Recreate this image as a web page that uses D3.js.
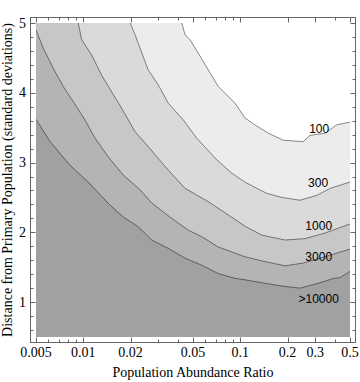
<!DOCTYPE html>
<html>
<head>
<meta charset="utf-8">
<script src="https://cdn.jsdelivr.net/npm/d3@7"></script>
<style>
body { margin: 0; background: #fff; }
</style>
</head>
<body>
<div id="chart"></div>
<script>
// contour lines, [abundance ratio, distance]
var line10000 = [[0.005,3.62],[0.00614,3.30],[0.00824,2.96],[0.01076,2.72],[0.01479,2.39],[0.0180,2.22],[0.0224,2.08],
    [0.0273,1.89],[0.0348,1.77],[0.0445,1.63],[0.0567,1.53],[0.0724,1.41],[0.0927,1.34],[0.107,1.32],[0.144,1.27],
    [0.184,1.23],[0.240,1.20],[0.314,1.27],[0.392,1.34],[0.431,1.35],[0.5,1.44]];
var line3000 = [[0.005,4.90],[0.00556,4.64],[0.00644,4.35],[0.00746,4.09],[0.00865,3.87],[0.01026,3.61],[0.01189,3.35],
    [0.01445,3.08],[0.0180,2.82],[0.0230,2.61],[0.0273,2.42],[0.0366,2.20],[0.0467,2.03],[0.0567,1.94],[0.0724,1.79],
    [0.107,1.65],[0.144,1.58],[0.193,1.52],[0.252,1.56],[0.347,1.65],[0.5,1.76]];
var line1000 = [[0.00929,5],[0.00977,4.76],[0.01132,4.54],[0.0131,4.25],[0.0152,4.01],[0.0171,3.82],[0.0194,3.61],
    [0.0214,3.44],[0.0259,3.23],[0.0348,2.89],[0.0445,2.63],[0.0625,2.44],[0.0839,2.25],[0.107,2.09],[0.137,1.96],
    [0.193,1.89],[0.258,1.91],[0.347,1.99],[0.5,2.12]];
var line300 = [[0.0199,5],[0.0214,4.83],[0.0230,4.64],[0.0259,4.33],[0.0301,4.11],[0.0348,3.85],[0.0434,3.61],
    [0.0528,3.35],[0.0708,3.04],[0.0881,2.85],[0.107,2.72],[0.147,2.56],[0.184,2.50],[0.240,2.46],[0.307,2.53],
    [0.373,2.63],[0.5,2.72]];
var line100 = [[0.0424,5],[0.0445,4.83],[0.0479,4.76],[0.0567,4.49],[0.0724,4.09],[0.0927,3.85],[0.107,3.64],
    [0.124,3.54],[0.151,3.42],[0.188,3.32],[0.252,3.30],[0.278,3.39],[0.347,3.42],[0.411,3.54],[0.5,3.58]];

var contourLines = [line10000, line3000, line1000, line300, line100];
var bandColors = ["#a1a1a1", "#b4b4b4", "#c7c7c7", "#dadada", "#ececec", "#ffffff"];

var labelText = ["100", "300", "1000", "3000", ">10000"];
var labelX = [0.318, 0.313, 0.316, 0.316, 0.316];
var labelY = [3.48, 2.70, 2.09, 1.65, 1.05];

var xTicks = [0.005, 0.01, 0.02, 0.05, 0.1, 0.2, 0.3, 0.5];
var xTickLabels = ["0.005", "0.01", "0.02", "0.05", "0.1", "0.2", "0.3", "0.5"];
var xMinor = [0.006, 0.007, 0.008, 0.009, 0.03, 0.04, 0.06, 0.07, 0.08, 0.09, 0.4];
var yTicks = [1, 2, 3, 4, 5];
var yMinor = [0.6, 0.8, 1.2, 1.4, 1.6, 1.8, 2.2, 2.4, 2.6, 2.8, 3.2, 3.4, 3.6, 3.8, 4.2, 4.4, 4.6, 4.8];

var width = 360, height = 382;
var svg = d3.select("#chart").append("svg")
    .attr("width", width)
    .attr("height", height);

var x = d3.scaleLog().domain([0.005, 0.5]).range([36, 350]);
var y = d3.scaleLinear().domain([0.5, 5]).range([337, 23]);

var frame = {left: 30.5, right: 355.5, top: 17.5, bottom: 342.5};

svg.append("clipPath").attr("id", "plotclip")
    .append("rect")
    .attr("x", x(0.005)).attr("y", y(5))
    .attr("width", x(0.5) - x(0.005)).attr("height", y(0.5) - y(5));

var plot = svg.append("g").attr("clip-path", "url(#plotclip)");

plot.append("rect")
    .attr("x", x(0.005)).attr("y", y(5))
    .attr("width", x(0.5) - x(0.005)).attr("height", y(0.5) - y(5))
    .style("fill", bandColors[0]);

// lighter region above / right of each contour
var poly = d3.line().x(function(d) { return x(d[0]); }).y(function(d) { return y(d[1]); });

contourLines.forEach(function(pts, i) {
    var p = pts.slice();
    p.push([0.5, 5]);
    if (pts[0][0] <= 0.005) p.push([0.005, 5]);
    plot.append("path")
        .attr("d", poly(p) + "Z")
        .style("fill", bandColors[i + 1]);
});

contourLines.forEach(function(pts) {
    plot.append("path")
        .attr("d", poly(pts))
        .style("fill", "none")
        .style("stroke", "#000")
        .style("stroke-opacity", 0.45)
        .style("stroke-width", 1);
});

plot.selectAll(".clabel")
    .data(labelText)
    .enter().append("text")
    .attr("class", "clabel")
    .attr("x", function(d, i) { return x(labelX[i]); })
    .attr("y", function(d, i) { return y(labelY[i]); })
    .attr("text-anchor", "middle")
    .attr("dominant-baseline", "central")
    .style("font-family", "'Liberation Sans', Arial, sans-serif")
    .style("font-size", "12px")
    .style("fill", "#000")
    .text(function(d) { return d; });

// frame
svg.append("rect")
    .attr("x", frame.left).attr("y", frame.top)
    .attr("width", frame.right - frame.left).attr("height", frame.bottom - frame.top)
    .style("fill", "none")
    .style("stroke", "#666")
    .style("stroke-width", 1);

var ticks = svg.append("g").style("stroke", "#666").style("stroke-width", 1);

function xTick(v, len) {
    var px = Math.round(x(v)) + 0.5;
    ticks.append("line").attr("x1", px).attr("x2", px).attr("y1", frame.bottom).attr("y2", frame.bottom - len);
    ticks.append("line").attr("x1", px).attr("x2", px).attr("y1", frame.top).attr("y2", frame.top + len);
}
function yTick(v, len) {
    var py = Math.round(y(v)) + 0.5;
    ticks.append("line").attr("y1", py).attr("y2", py).attr("x1", frame.left).attr("x2", frame.left + len);
    ticks.append("line").attr("y1", py).attr("y2", py).attr("x1", frame.right).attr("x2", frame.right - len);
}
xTicks.forEach(function(v) { xTick(v, 5); });
xMinor.forEach(function(v) { xTick(v, 3); });
yTicks.forEach(function(v) { yTick(v, 5); });
yMinor.forEach(function(v) { yTick(v, 3); });

var serif = "'Liberation Serif', 'Times New Roman', serif";

svg.selectAll(".xlab")
    .data(xTicks)
    .enter().append("text")
    .attr("class", "xlab")
    .attr("x", function(d) { return x(d); })
    .attr("y", 357)
    .attr("text-anchor", "middle")
    .style("font-family", serif)
    .style("font-size", "14px")
    .text(function(d, i) { return xTickLabels[i]; });

svg.selectAll(".ylab")
    .data(yTicks)
    .enter().append("text")
    .attr("class", "ylab")
    .attr("x", 26)
    .attr("y", function(d) { return y(d); })
    .attr("text-anchor", "end")
    .attr("dominant-baseline", "central")
    .style("font-family", serif)
    .style("font-size", "14px")
    .text(function(d) { return d; });

svg.append("text")
    .attr("x", (x(0.005) + x(0.5)) / 2)
    .attr("y", 377)
    .attr("text-anchor", "middle")
    .style("font-family", serif)
    .style("font-size", "14px")
    .text("Population Abundance Ratio");

svg.append("text")
    .attr("transform", "translate(12," + (y(0.5) + y(5)) / 2 + ") rotate(-90)")
    .attr("text-anchor", "middle")
    .style("font-family", serif)
    .style("font-size", "14px")
    .text("Distance from Primary Population (standard deviations)");
</script>
</body>
</html>
